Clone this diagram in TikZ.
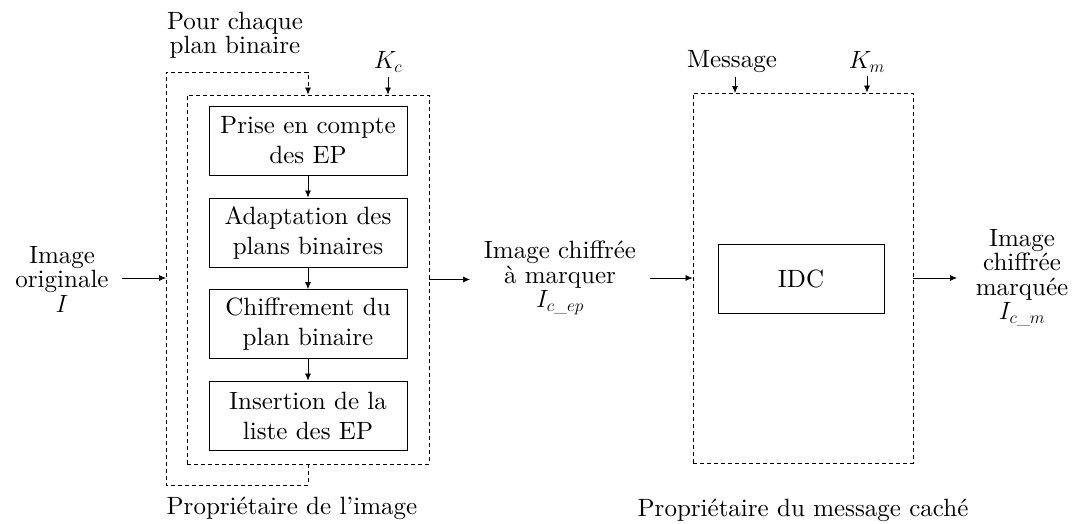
\documentclass[tikz,border=0pt]{standalone}
\usepackage{amsmath}
\usepackage{fontspec}
\setmainfont{lmroman10}[Extension=.otf, UprightFont=*-regular, ItalicFont=*-italic, BoldFont=*-bold]
\usetikzlibrary{arrows.meta}
\begin{document}
\begin{tikzpicture}[x=1pt,y=-1pt,
  font=\fontsize{25}{24.5}\selectfont,
  box/.style={draw, line width=0.9pt, minimum width=198pt, minimum height=69pt, align=center, inner sep=0pt, font=\fontsize{25}{30}\selectfont},
  dsh/.style={draw, line width=0.9pt, dash pattern=on 4pt off 3pt},
  arr/.style={-{Latex[length=7pt,width=6pt]}, line width=0.7pt},
  lbl/.style={align=center, inner sep=0pt}]
\useasboundingbox (0,0) rectangle (1073,523);

% inner boxes
\node[box] (b1) at (308,140.5) {Prise en compte\\des EP};
\node[box] (b2) at (308,232.5) {Adaptation des\\plans binaires};
\node[box] (b3) at (308,324) {Chiffrement du\\plan binaire};
\node[box] (b4) at (308,415.5) {Insertion de la\\liste des EP};
\draw[arr] (b1) -- (b2);
\draw[arr] (b2) -- (b3);
\draw[arr] (b3) -- (b4);

% inner dashed box
\node[dsh, minimum width=242pt, minimum height=369pt, inner sep=0pt] (inner) at (308,279.5) {};

% loop
\coordinate (loopbl) at (166,485);
\coordinate (looptl) at (166,72);
\coordinate (loopin) at (166,278);
\draw[dsh, arr] (inner.south) |- (loopbl) -- (looptl) -| (inner.north);

\node[lbl] (pc) at (235,35) {Pour chaque\\plan binaire};
\node[lbl] (kc) at (388,62) {$K_c$};
\draw[arr] (kc.south |- 0,77) -- (kc |- inner.north);

% input
\node[lbl] (inI) at (62,279) {Image\\originale\\$I$};
\coordinate (instart) at (122,278);
\draw[arr] (instart) -- (loopin);

% middle label
\node[lbl] (mid) at (560,278) {Image chiffrée\\à marquer\\$I_{c\text{\_}ep}$};
\coordinate (midin) at (inner.east -| 470,0);
\coordinate (midout) at (650,278);
\draw[arr] (inner.east) -- (midin);

% right box
\node[dsh, minimum width=220pt, minimum height=370pt, inner sep=0pt] (rb) at (803,278) {};
\node[draw, line width=0.9pt, minimum width=166pt, minimum height=69pt, inner sep=0pt] (idc) at (801,278.5) {IDC};
\draw[arr] (midout) -- (rb.west);

\node[lbl] (msg) at (732,62) {Message};
\node[lbl] (km) at (867,62) {$K_m$};
\draw[arr] (msg.south -| 735,0) ++(0,4) -- (735,93);
\draw[arr] (km.south |- 0,76) -- (km |- rb.north);

% output
\node[lbl] (outI) at (1022,277.5) {Image\\chiffrée\\marquée\\$I_{c\text{\_}m}$};
\coordinate (outend) at (957,278);
\draw[arr] (rb.east) -- (outend);

% owners
\node[lbl] (own1) at (292,508) {Propriétaire de l’image};
\node[lbl] (own2) at (803,510) {Propriétaire du message caché};
\end{tikzpicture}
\end{document}
